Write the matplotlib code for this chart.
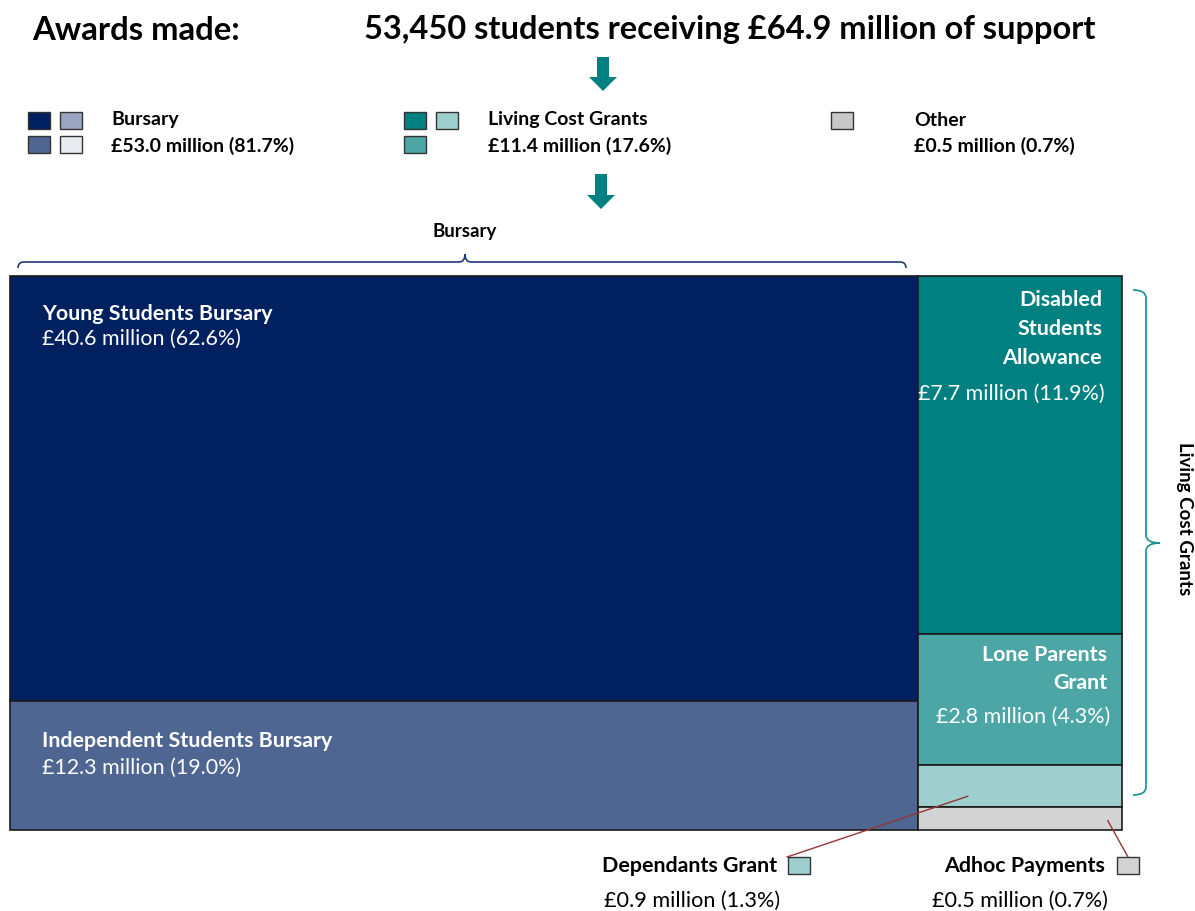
import matplotlib.pyplot as plt
from matplotlib.patches import Rectangle, FancyArrow
from matplotlib.path import Path
from matplotlib.patches import PathPatch

plt.rcParams["font.family"] = ["Lato", "DejaVu Sans"]

# Data
categories = ["Young Students Bursary", "Independent Students Bursary",
              "Disabled Students Allowance", "Lone Parents Grant",
              "Dependants Grant", "Adhoc Payments"]
values = [40.6, 12.3, 7.7, 2.8, 0.9, 0.5]
percents = [62.6, 19.0, 11.9, 4.3, 1.3, 0.7]
groups = ["Bursary", "Bursary", "Living Cost Grants", "Living Cost Grants",
          "Living Cost Grants", "Other"]
colors = ["#002060", "#4F6592", "#008080", "#4DA6A6", "#9ECECE", "#D3D3D3"]

group_names = ["Bursary", "Living Cost Grants", "Other"]
group_values = [53.0, 11.4, 0.5]
group_percents = [81.7, 17.6, 0.7]
group_legend_colors = [["#002060", "#9AA5C2", "#4F6592", "#E8EAF0"],
                       ["#008080", "#9ECECE", "#4DA6A6"],
                       ["#C8C8C8"]]

students = 53450
total_support = 64.9

fig = plt.figure(figsize=(11.95, 9.11), dpi=100)
ax = fig.add_axes([0, 0, 1, 1])
ax.set_xlim(0, 1195)
ax.set_ylim(911, 0)
ax.axis("off")

# Title
ax.text(32, 30, "Awards made:", fontsize=23.7, fontweight="bold", va="center")
ax.text(730, 30, f"{students:,} students receiving £{total_support} million of support",
        fontsize=23.5, fontweight="bold", va="center", ha="center")


def down_arrow(x, y0, y1):
    ax.add_patch(FancyArrow(x, y0, 0, y1 - y0, width=12, head_width=28,
                            head_length=14, length_includes_head=True,
                            color="#008080", lw=0))


down_arrow(603, 57, 91)
down_arrow(601, 174, 209)

# Legend
leg_x = [28, 404, 831]
text_x = [111, 488, 914]
for gi in range(3):
    cols = group_legend_colors[gi]
    for k, c in enumerate(cols):
        cx = leg_x[gi] + (k % 2) * 32
        cy = 112 + (k // 2) * 24
        ax.add_patch(Rectangle((cx, cy), 22, 17, facecolor=c, edgecolor="#333333", lw=1))
    ax.text(text_x[gi], 120, group_names[gi], fontsize=14, fontweight="bold", va="center")
    ax.text(text_x[gi], 146, f"£{group_values[gi]} million ({group_percents[gi]}%)",
            fontsize=14, fontweight="bold", va="center")

# Treemap layout computed from values
X0, X1, Y0, Y1 = 10, 1122, 276, 830
total = sum(values)
left_sum = sum(v for v, g in zip(values, groups) if g == "Bursary")
xs = X0 + (X1 - X0) * left_sum / total
rects = []
yl, yr = Y0, Y0
right_sum = total - left_sum
for v, g in zip(values, groups):
    if g == "Bursary":
        h = (Y1 - Y0) * v / left_sum
        rects.append((X0, yl, xs - X0, h))
        yl += h
    else:
        h = (Y1 - Y0) * v / right_sum
        rects.append((xs, yr, X1 - xs, h))
        yr += h

for (x, y, w, h), c in zip(rects, colors):
    ax.add_patch(Rectangle((x, y), w, h, facecolor=c, edgecolor="#1a1a1a", lw=1.2))

fs = 15.4

# Labels inside big boxes
for i, (o1, o2) in zip([0, 1], [(38, 63), (40, 67)]):
    x, y, w, h = rects[i]
    ax.text(x + 32, y + o1, categories[i], color="white", fontsize=fs,
            fontweight="bold", va="center")
    ax.text(x + 32, y + o2, f"£{values[i]} million ({percents[i]}%)",
            color="white", fontsize=fs, va="center")

x, y, w, h = rects[2]
for j, line in enumerate(["Disabled", "Students", "Allowance"]):
    ax.text(x + w - 20, y + 24 + j * 29, line, color="white", fontsize=fs,
            fontweight="bold", va="center", ha="right")
ax.text(x + w / 2 - 9, y + 118, f"£{values[2]} million ({percents[2]}%)",
        color="white", fontsize=fs, va="center", ha="center")

x, y, w, h = rects[3]
for j, line in enumerate(["Lone Parents", "Grant"]):
    ax.text(x + w - 15, y + 21 + j * 28, line, color="white", fontsize=fs,
            fontweight="bold", va="center", ha="right")
ax.text(x + w - 12, y + 82, f"£{values[3]} million ({percents[3]}%)",
        color="white", fontsize=fs, va="center", ha="right")

# Callouts for small boxes
line_col = "#943634"
x, y, w, h = rects[4]
ax.plot([x + 50, 787], [y + h * 0.75, 857], color=line_col, lw=1)
ax.add_patch(Rectangle((788, 857), 22, 17, facecolor=colors[4], edgecolor="#333333", lw=1))
ax.text(777, 866, categories[4], fontsize=fs, fontweight="bold", va="center", ha="right")
ax.text(692, 901, f"£{values[4]} million ({percents[4]}%)", fontsize=15.6,
        va="center", ha="center")

x, y, w, h = rects[5]
ax.plot([x + 190, 1128], [y + h * 0.6, 857], color=line_col, lw=1)
ax.add_patch(Rectangle((1117, 857), 22, 17, facecolor=colors[5], edgecolor="#333333", lw=1))
ax.text(1105, 866, categories[5], fontsize=fs, fontweight="bold", va="center", ha="right")
ax.text(1020, 901, f"£{values[5]} million ({percents[5]}%)", fontsize=15.6,
        va="center", ha="center")

# Braces
verts = [(18, 268), (18, 262), (24, 262), (459, 262), (465, 262), (465, 254),
         (465, 262), (471, 262), (900, 262), (906, 262), (906, 268)]
codes = [Path.MOVETO, Path.CURVE3, Path.CURVE3, Path.LINETO, Path.CURVE3, Path.CURVE3,
         Path.CURVE3, Path.CURVE3, Path.LINETO, Path.CURVE3, Path.CURVE3]
ax.add_patch(PathPatch(Path(verts, codes), facecolor="none", edgecolor="#1F3A7A", lw=1.2))
ax.text(465, 231, "Bursary", fontsize=13.5, fontweight="bold", ha="center", va="center")

verts = [(1133, 290), (1146, 290), (1146, 298), (1146, 535), (1146, 543), (1160, 543),
         (1146, 543), (1146, 551), (1146, 787), (1146, 795), (1133, 795)]
ax.add_patch(PathPatch(Path(verts, codes), facecolor="none", edgecolor="#139090", lw=1.2))
ax.text(1185, 519, "Living Cost Grants", fontsize=13.5, fontweight="bold",
        rotation=-90, ha="center", va="center")

plt.savefig("out.png", dpi=100)
